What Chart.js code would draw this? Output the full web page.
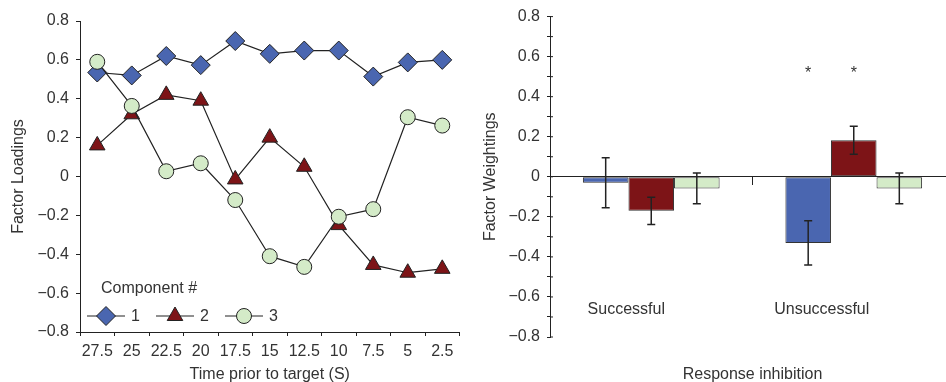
<!DOCTYPE html>
<html>
<head>
<meta charset="utf-8">
<script src="https://cdn.jsdelivr.net/npm/chart.js@4/dist/chart.umd.min.js"></script>
<style>
  html, body { margin: 0; padding: 0; background: #fff; overflow: hidden; }
  #leftBox { position: absolute; left: 0; top: 0; width: 470px; height: 382px; }
  #rightBox { position: absolute; left: 470px; top: 0; width: 476px; height: 382px; overflow: hidden; }
</style>
</head>
<body>
<div id="leftBox"><canvas id="loadings" width="470" height="382"></canvas></div>
<div id="rightBox"><canvas id="weights" width="490" height="382"></canvas></div>
<script>
  // --- left panel: factor loadings over time
  const timeLabels = ['27.5', '25', '22.5', '20', '17.5', '15', '12.5', '10', '7.5', '5', '2.5'];
  const comp1 = [0.535, 0.52, 0.62, 0.573, 0.697, 0.631, 0.648, 0.648, 0.514, 0.587, 0.60];
  const comp2 = [0.16, 0.32, 0.42, 0.39, -0.015, 0.20, 0.05, -0.25, -0.455, -0.495, -0.475];
  const comp3 = [0.59, 0.363, 0.027, 0.068, -0.121, -0.41, -0.465, -0.207, -0.168, 0.305, 0.262];
  const componentNames = ['1', '2', '3'];

  // --- right panel: factor weightings by response inhibition
  const groups = ['Successful', 'Unsuccessful'];
  const weight1 = [-0.03, -0.33];
  const weight2 = [-0.17, 0.183];
  const weight3 = [-0.058, -0.058];
  const err1 = [0.125, 0.11];
  const err2 = [0.068, 0.07];
  const err3 = [0.077, 0.077];
  const starred = [[false, true], [false, true], [false, false]];
  const starLevel = 0.53;
  const groupLabelLevel = -0.663;

  const colBlue = '#4a66b0';
  const colRed = '#7d1417';
  const colGreen = '#d4ebc8';
  const ink = '#222';
  const textCol = '#333';
  const fontFam = '"Liberation Sans", Arial, sans-serif';
  const markers = ['rectRot', 'triangle', 'circle'];
  const markerSize = [9.5, 9, 7.5];

  function fmtTick(v) {
    if (Math.abs(v) < 1e-9) return '0';
    return v.toFixed(1).replace('-', '\u2212');
  }

  function drawMarker(ctx, style, x, y, r) {
    ctx.beginPath();
    if (style === 'rectRot') {
      ctx.moveTo(x - r, y); ctx.lineTo(x, y - r); ctx.lineTo(x + r, y); ctx.lineTo(x, y + r);
    } else if (style === 'triangle') {
      let a = 0;
      for (let k = 0; k < 3; k++) {
        const px = x + Math.sin(a) * r, py = y - Math.cos(a) * r;
        if (k === 0) ctx.moveTo(px, py); else ctx.lineTo(px, py);
        a += Math.PI * 2 / 3;
      }
    } else {
      ctx.arc(x, y, r, 0, Math.PI * 2);
    }
    ctx.closePath();
    ctx.fill();
    ctx.stroke();
  }

  Chart.defaults.font.family = fontFam;
  Chart.defaults.font.size = 16;
  Chart.defaults.color = textCol;

  const loadColors = [colBlue, colRed, colGreen];
  const loadSeries = [comp1, comp2, comp3];

  const legendPlugin = {
    id: 'componentLegend',
    afterDraw(chart) {
      const ctx = chart.ctx;
      const a = chart.chartArea;
      ctx.save();
      ctx.font = '16px ' + fontFam;
      ctx.fillStyle = textCol;
      ctx.textBaseline = 'middle';
      ctx.textAlign = 'left';
      ctx.fillText('Component #', a.left + 21, a.bottom - 43);
      const y = a.bottom - 16;
      componentNames.forEach((name, i) => {
        const x0 = a.left + 7 + i * 69;
        ctx.strokeStyle = ink;
        ctx.lineWidth = 1.2;
        ctx.beginPath();
        ctx.moveTo(x0, y); ctx.lineTo(x0 + 38, y);
        ctx.stroke();
        ctx.fillStyle = loadColors[i];
        ctx.lineWidth = 1;
        drawMarker(ctx, markers[i], x0 + 19, y, markerSize[i]);
        ctx.fillStyle = textCol;
        ctx.fillText(name, x0 + 44, y + 1);
      });
      ctx.restore();
    }
  };

  new Chart(document.getElementById('loadings'), {
    type: 'line',
    data: {
      labels: timeLabels,
      datasets: loadSeries.map((vals, i) => ({
        label: componentNames[i],
        data: vals,
        order: 3 - i,
        borderColor: ink,
        borderWidth: 1.2,
        backgroundColor: loadColors[i],
        pointStyle: markers[i],
        pointRadius: markerSize[i],
        pointBorderColor: ink,
        pointBorderWidth: 1,
        pointBackgroundColor: loadColors[i],
        tension: 0
      }))
    },
    options: {
      responsive: false,
      animation: false,
      layout: { padding: { top: 21, right: 4, left: 0, bottom: 0 } },
      plugins: { legend: { display: false }, tooltip: { enabled: false } },
      scales: {
        x: {
          type: 'category',
          offset: true,
          afterFit: s => { s.height = 50; },
          grid: { display: true, offset: true, drawOnChartArea: false, tickLength: 4, color: ink },
          border: { display: true, color: ink, width: 1 },
          ticks: { padding: 6, maxRotation: 0, autoSkip: false, color: textCol },
          title: { display: true, text: 'Time prior to target (S)', color: textCol, padding: { top: 0, bottom: -2 } }
        },
        y: {
          min: -0.8,
          max: 0.8,
          afterFit: s => { s.width = 80; },
          grid: { display: true, drawOnChartArea: false, tickLength: 4, color: ink },
          border: { display: true, color: ink, width: 1 },
          ticks: { stepSize: 0.2, padding: 7, color: textCol, callback: v => fmtTick(v) },
          title: { display: true, text: 'Factor Loadings', color: textCol, padding: { top: 9, bottom: 0 } }
        }
      }
    },
    plugins: [legendPlugin]
  });

  // --- right panel
  const weightSeries = [weight1, weight2, weight3];
  const errSeries = [err1, err2, err3];

  const extrasPlugin = {
    id: 'weightExtras',
    afterDatasetsDraw(chart) {
      const ctx = chart.ctx;
      const ys = chart.scales.y;
      const xs = chart.scales.x;
      ctx.save();
      // error bars
      ctx.strokeStyle = ink;
      ctx.lineWidth = 1.5;
      errSeries.forEach((errs, d) => {
        const meta = chart.getDatasetMeta(d);
        meta.data.forEach((bar, i) => {
          const v = weightSeries[d][i];
          const yTop = ys.getPixelForValue(v + errs[i]);
          const yBot = ys.getPixelForValue(v - errs[i]);
          ctx.beginPath();
          ctx.moveTo(bar.x, yTop); ctx.lineTo(bar.x, yBot);
          ctx.moveTo(bar.x - 4, yTop); ctx.lineTo(bar.x + 4, yTop);
          ctx.moveTo(bar.x - 4, yBot); ctx.lineTo(bar.x + 4, yBot);
          ctx.stroke();
        });
      });
      // significance stars
      ctx.fillStyle = textCol;
      ctx.font = '16px ' + fontFam;
      ctx.textAlign = 'center';
      ctx.textBaseline = 'middle';
      starred.forEach((flags, d) => {
        const meta = chart.getDatasetMeta(d);
        flags.forEach((on, i) => {
          if (on) ctx.fillText('*', meta.data[i].x, ys.getPixelForValue(starLevel) + 3);
        });
      });
      // group labels inside the plot
      const shift = [-25, -32];
      groups.forEach((g, i) => {
        ctx.fillText(g, xs.getPixelForValue(i) + shift[i], ys.getPixelForValue(groupLabelLevel));
      });
      // inner half of the y tick marks
      ctx.lineWidth = 1;
      const ax = chart.chartArea.left;
      ys.ticks.forEach(t => {
        const y = ys.getPixelForValue(t.value);
        ctx.beginPath();
        ctx.moveTo(ax, y); ctx.lineTo(ax + 3, y);
        ctx.stroke();
      });
      ctx.restore();
    }
  };

  new Chart(document.getElementById('weights'), {
    type: 'bar',
    data: {
      labels: groups,
      datasets: weightSeries.map((vals, i) => ({
        label: componentNames[i],
        data: vals,
        backgroundColor: loadColors[i],
        borderColor: '#333',
        borderWidth: 1,
        borderSkipped: false,
        barPercentage: 1,
        categoryPercentage: 0.675
      }))
    },
    options: {
      responsive: false,
      animation: false,
      layout: { padding: { top: 16, right: 5, left: 0, bottom: 0 } },
      plugins: { legend: { display: false }, tooltip: { enabled: false } },
      scales: {
        x: {
          type: 'category',
          afterFit: s => { s.height = 45; },
          grid: { display: false },
          border: { display: false },
          ticks: { display: false },
          title: { display: true, text: 'Response inhibition', color: textCol, padding: { top: 0, bottom: -2 } }
        },
        x0: {
          type: 'category',
          position: { y: 0 },
          offset: true,
          grid: { display: true, offset: true, drawOnChartArea: false, tickLength: 8, color: ink },
          border: { display: true, color: ink, width: 1 },
          ticks: { display: false }
        },
        y: {
          min: -0.8,
          max: 0.8,
          afterFit: s => { s.width = 80; },
          grid: { display: true, drawOnChartArea: false, tickLength: 3, color: ink },
          border: { display: true, color: ink, width: 1 },
          ticks: {
            stepSize: 0.1,
            padding: 7,
            color: textCol,
            autoSkip: false,
            callback: (v, idx) => (idx % 2 === 0 ? fmtTick(v) : '')
          },
          title: { display: true, text: 'Factor Weightings', color: textCol, padding: { top: 11, bottom: 0 } }
        }
      }
    },
    plugins: [extrasPlugin]
  });
</script>
</body>
</html>
